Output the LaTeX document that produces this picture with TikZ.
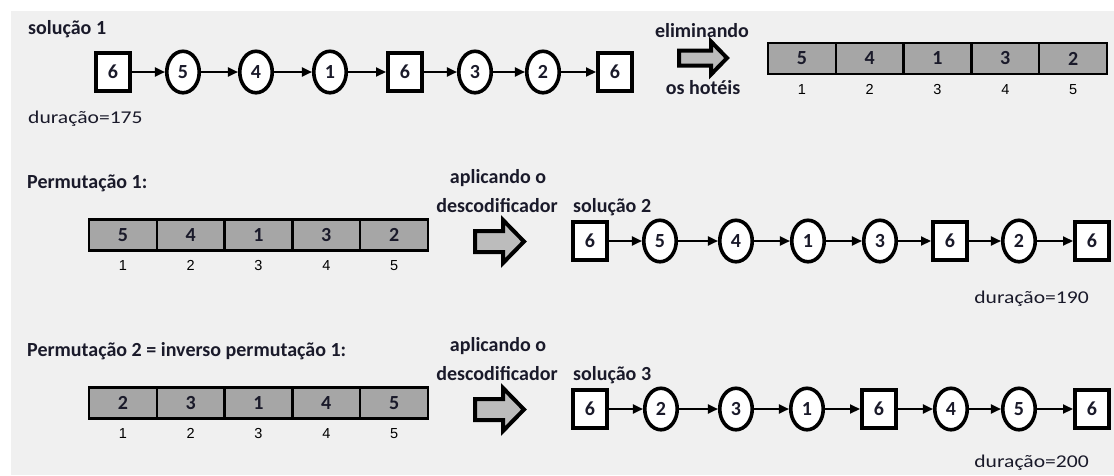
\documentclass[tikz,border=0pt]{standalone}
\usepackage{fontspec}
\setmainfont{Carlito}
\newfontfamily\durfont[FakeStretch=1.2]{Carlito}
\newfontfamily\idxfont{Liberation Sans}
\usetikzlibrary{arrows.meta,shapes.geometric}
\definecolor{bg}{HTML}{F0F0F0}
\definecolor{cellgray}{HTML}{A6A6A6}
\definecolor{arrgray}{HTML}{BCBCBC}
\definecolor{ink}{HTML}{1A1A2A}
\begin{document}
\begin{tikzpicture}[x=1pt,y=-1pt,
  lbl/.style={font=\fontsize{20}{24}\selectfont\bfseries, inner sep=0pt, text=ink},
  dur/.style={font=\durfont\fontsize{18}{22}\selectfont, inner sep=0pt, text=ink},
  hotel/.style={draw, line width=4pt, fill=white, minimum width=34pt, minimum height=38pt, inner sep=0pt, text=ink, font=\fontsize{20}{24}\selectfont\bfseries},
  city/.style={draw, ellipse, line width=3.6pt, fill=white, minimum width=32.5pt, minimum height=41.5pt, inner sep=0pt, text=ink, font=\fontsize{20}{24}\selectfont\bfseries},
  cell/.style={draw, line width=2.3pt, fill=cellgray, minimum width=67.8pt, minimum height=31pt, inner sep=0pt, text=ink, font=\fontsize{20}{24}\selectfont\bfseries},
  idx/.style={font=\idxfont\fontsize{14.5}{16}\selectfont, inner sep=0pt, anchor=base},
  link/.style={line width=2pt, -{Triangle[length=10pt,width=9pt]}},
  bigarrow/.style={draw, line width=4pt, fill=arrgray, line join=miter}
]
\useasboundingbox (0,0) rectangle (1114,475);
\fill[bg] (11,11) rectangle (1114,475);

% ---------- row 1 ----------
\node[lbl, anchor=base west] (t1) at (28,34) {solução 1};
\node[dur, anchor=base west] (d1) at (28,123) {duração=175};
\node[hotel] (a1) at (113,72) {6};
\node[city]  (a2) at (183,72) {5};
\node[city]  (a3) at (256,72) {4};
\node[city]  (a4) at (330,72) {1};
\node[hotel] (a5) at (405,72) {6};
\node[city]  (a6) at (475,72) {3};
\node[city]  (a7) at (543,72) {2};
\node[hotel] (a8) at (615,72) {6};

\node[lbl, anchor=base] (e1) at (702,37) {eliminando};
\node[lbl, anchor=base] (e2) at (703,94) {os hotéis};
\draw[bigarrow] (679,50.5) -- (711,50.5) -- (711,41.5) -- (727,58) -- (711,74.5) -- (711,65.5) -- (679,65.5) -- cycle;

\node[cell] (u1) at (801.9,58.5) {5};
\node[cell] (u2) at (869.7,58.5) {4};
\node[cell] (u3) at (937.5,58.5) {1};
\node[cell] (u4) at (1005.3,58.5) {3};
\node[cell] (u5) at (1073.1,58.5) {2};
\node[idx] (ui1) at (801.9,94) {1};
\node[idx] (ui2) at (869.7,94) {2};
\node[idx] (ui3) at (937.5,94) {3};
\node[idx] (ui4) at (1005.3,94) {4};
\node[idx] (ui5) at (1073.1,94) {5};

% ---------- row 2 ----------
\node[lbl, anchor=base west] (t2) at (27,188) {Permutação 1:};
\node[cell] (v1) at (122.9,235) {5};
\node[cell] (v2) at (190.7,235) {4};
\node[cell] (v3) at (258.5,235) {1};
\node[cell] (v4) at (326.3,235) {3};
\node[cell] (v5) at (394.1,235) {2};
\node[idx] (vi1) at (122.9,270) {1};
\node[idx] (vi2) at (190.7,270) {2};
\node[idx] (vi3) at (258.5,270) {3};
\node[idx] (vi4) at (326.3,270) {4};
\node[idx] (vi5) at (394.1,270) {5};

\node[lbl, anchor=base] (ap2) at (498,183) {aplicando o};
\node[lbl, anchor=base] (de2) at (497,212) {descodificador};
\draw[bigarrow] (475,231) -- (503,231) -- (503,220) -- (524,241.5) -- (503,263) -- (503,252) -- (475,252) -- cycle;

\node[lbl, anchor=base west] (s2) at (573,212) {solução 2};
\node[hotel] (b1) at (590,241) {6};
\node[city]  (b2) at (660,241) {5};
\node[city]  (b3) at (736,241) {4};
\node[city]  (b4) at (808,241) {1};
\node[city]  (b5) at (880,241) {3};
\node[hotel] (b6) at (950,241) {6};
\node[city]  (b7) at (1019,241) {2};
\node[hotel] (b8) at (1092,241) {6};
\node[dur, anchor=base east] (d2) at (1089,303) {duração=190};

% ---------- row 3 ----------
\node[lbl, anchor=base west] (t3) at (27,356) {Permutação 2 = inverso permutação 1:};
\node[cell] (w1) at (122.9,403) {2};
\node[cell] (w2) at (190.7,403) {3};
\node[cell] (w3) at (258.5,403) {1};
\node[cell] (w4) at (326.3,403) {4};
\node[cell] (w5) at (394.1,403) {5};
\node[idx] (wi1) at (122.9,438) {1};
\node[idx] (wi2) at (190.7,438) {2};
\node[idx] (wi3) at (258.5,438) {3};
\node[idx] (wi4) at (326.3,438) {4};
\node[idx] (wi5) at (394.1,438) {5};

\node[lbl, anchor=base] (ap3) at (498,351) {aplicando o};
\node[lbl, anchor=base] (de3) at (497,380) {descodificador};
\draw[bigarrow] (475,399) -- (503,399) -- (503,388) -- (524,409.5) -- (503,431) -- (503,420) -- (475,420) -- cycle;

\node[lbl, anchor=base west] (s3) at (573,380) {solução 3};
\node[hotel] (c1) at (590,409) {6};
\node[city]  (c2) at (661,409) {2};
\node[city]  (c3) at (736,409) {3};
\node[city]  (c4) at (807,409) {1};
\node[hotel] (c5) at (879,409) {6};
\node[city]  (c6) at (951,409) {4};
\node[city]  (c7) at (1019,409) {5};
\node[hotel] (c8) at (1092,409) {6};
\node[dur, anchor=base east] (d3) at (1089,467) {duração=200};

% ---------- connectors ----------
\foreach \r in {a,b,c}{
  \foreach \i in {1,...,7}{
    \pgfmathtruncatemacro\j{\i+1}
    \draw[link] (\r\i) -- (\r\j);
  }
}
\end{tikzpicture}
\end{document}
